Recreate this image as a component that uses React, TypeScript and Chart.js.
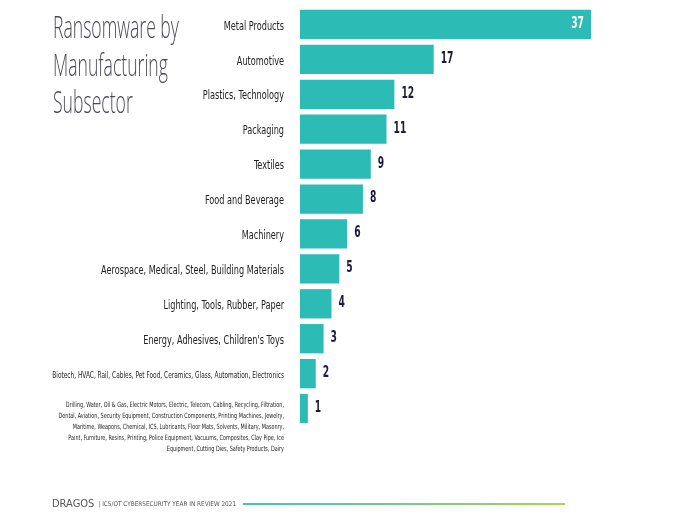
import React, { useEffect, useRef } from "react";
import { Chart, registerables, CategoryScale } from "chart.js";

Chart.register(...registerables);

const categories = [
  "Metal Products",
  "Automotive",
  "Plastics, Technology",
  "Packaging",
  "Textiles",
  "Food and Beverage",
  "Machinery",
  "Aerospace, Medical, Steel, Building Materials",
  "Lighting, Tools, Rubber, Paper",
  "Energy, Adhesives, Children's Toys",
  "Biotech, HVAC, Rail, Cables, Pet Food, Ceramics, Glass, Automation, Electronics",
  "Drilling",
];

const lastCategoryLines = [
  "Drilling, Water, Oil & Gas, Electric Motors, Electric, Telecom, Cabling, Recycling, Filtration,",
  "Dental, Aviation, Security Equipment, Construction Components, Printing Machines, Jewelry,",
  "Maritime, Weapons, Chemical, ICS, Lubricants, Floor Mats, Solvents, Military, Masonry,",
  "Paint, Furniture, Resins, Printing, Police Equipment, Vacuums, Composites, Clay Pipe, Ice",
  "Equipment, Cutting Dies, Safety Products, Dairy",
];

const values = [37, 17, 12, 11, 9, 8, 6, 5, 4, 3, 2, 1];

const titleLines = ["Ransomware by", "Manufacturing", "Subsector"];
const footerBrand = "DRAGOS";
const footerText = "| ICS/OT CYBERSECURITY YEAR IN REVIEW 2021";

const NARROW = "'DejaVu Sans Condensed', 'DejaVu Sans', sans-serif";
const BAR_COLOR = "#2dbbb5";
const LABEL_SCALE_X = 0.755;
const VALUE_SCALE_X = 0.68;
const TICK_PAD = 16;

class CondensedCategoryScale extends (CategoryScale as any) {
  static id = "condensedCategory";
  static defaults = {};
  _computeLabelArea() {
    return undefined;
  }
  drawLabels(chartArea: any) {
    const ctx = (this as any).ctx;
    const ax = (this as any).right - TICK_PAD;
    ctx.save();
    ctx.translate(ax, 0);
    ctx.scale(LABEL_SCALE_X, 1);
    ctx.translate(-ax, 0);
    super.drawLabels(chartArea);
    ctx.restore();
  }
}
Chart.register(CondensedCategoryScale as any);

export default function App() {
  const canvasRef = useRef<HTMLCanvasElement | null>(null);

  useEffect(() => {
    const canvas = canvasRef.current;
    if (!canvas) return;
    const last = categories.length - 1;
    const labels = categories.map((c, i) =>
      i === last ? ["", "", "", ...lastCategoryLines] : c
    );

    const valueLabels = {
      id: "valueLabels",
      afterDatasetsDraw(chart: any) {
        const ctx = chart.ctx;
        const meta = chart.getDatasetMeta(0);
        meta.data.forEach((bar: any, i: number) => {
          const v = values[i];
          ctx.save();
          ctx.font = `bold 15px ${NARROW}`;
          ctx.textBaseline = "middle";
          const ax = i === 0 ? bar.x - 7 : bar.x + 7;
          ctx.translate(ax, bar.y - 0.5);
          ctx.scale(VALUE_SCALE_X, 1);
          if (i === 0) {
            ctx.fillStyle = "#ffffff";
            ctx.textAlign = "right";
          } else {
            ctx.fillStyle = "#1c1c38";
            ctx.textAlign = "left";
          }
          ctx.fillText(String(v), 0, 0);
          ctx.restore();
        });
      },
    };

    const chart = new Chart(canvas, {
      type: "bar",
      data: {
        labels,
        datasets: [
          {
            data: values,
            backgroundColor: BAR_COLOR,
            borderWidth: 0,
            categoryPercentage: 1,
            barPercentage: 0.84,
          },
        ],
      },
      options: {
        indexAxis: "y",
        animation: false,
        responsive: false,
        devicePixelRatio: 1,
        layout: { padding: { top: 7, bottom: 94, left: 0, right: 89 } },
        plugins: {
          legend: { display: false },
          tooltip: { enabled: false },
          title: { display: false },
        },
        scales: {
          x: { display: false, min: 0, max: 37 },
          y: {
            type: "condensedCategory",
            afterFit(scale: any) {
              scale.width = 300;
              scale.paddingTop = 0;
              scale.paddingBottom = 0;
            },
            grid: { display: false, drawTicks: false },
            border: { display: false },
            ticks: {
              padding: TICK_PAD,
              labelOffset: 2,
              color: "#222222",
              autoSkip: false,
              font: (ctx: any) => {
                const idx = ctx.index;
                if (idx === last) return { family: NARROW, size: 7.2, lineHeight: 1.53 };
                if (idx === last - 1) return { family: NARROW, size: 8.6 };
                return { family: NARROW, size: 12 };
              },
            },
          },
        },
      } as any,
      plugins: [valueLabels],
    });

    return () => chart.destroy();
  }, []);

  return (
    <div
      style={{
        position: "fixed",
        left: 0,
        top: 0,
        width: 680,
        height: 520,
        background: "#ffffff",
        overflow: "hidden",
      }}
    >
      <canvas
        ref={canvasRef}
        width={680}
        height={520}
        style={{ position: "absolute", left: 0, top: 0, width: 680, height: 520 }}
      />
      <div
        style={{
          position: "absolute",
          left: 53,
          top: 7,
          fontFamily: "'Open Sans', sans-serif",
          fontWeight: 300,
          fontSize: 32,
          lineHeight: "37.5px",
          color: "#4a4a55",
          transform: "scaleX(0.55)",
          transformOrigin: "left top",
          whiteSpace: "nowrap",
        }}
      >
        {titleLines.map((t, i) => (
          <div key={i}>{t}</div>
        ))}
      </div>
      <div
        style={{
          position: "absolute",
          left: 52,
          top: 497,
          display: "flex",
          alignItems: "center",
          whiteSpace: "nowrap",
          color: "#555555",
          fontFamily: NARROW,
        }}
      >
        <span style={{ fontSize: 11 }}>{footerBrand}</span>
        <span style={{ fontSize: 6.4, marginLeft: 4 }}>{footerText}</span>
      </div>
      <div
        style={{
          position: "absolute",
          left: 243,
          top: 503,
          width: 322,
          height: 2,
          background: "linear-gradient(to right, #3cc3c4, #a9d64a)",
        }}
      />
    </div>
  );
}
